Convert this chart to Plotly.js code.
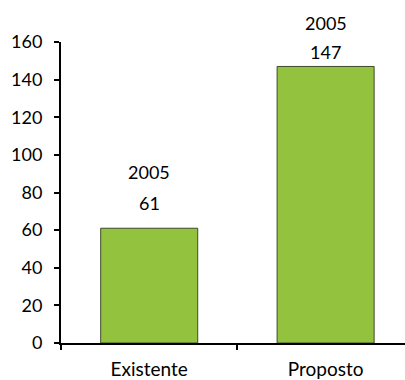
<!DOCTYPE html>
<html>
<head>
<meta charset="utf-8">
<script src="https://cdn.plot.ly/plotly-3.0.1.min.js"></script>
<style>html,body{margin:0;padding:0;background:#fff;}#chart{width:405px;height:380px;}</style>
</head>
<body>
<div id="chart"></div>
<script>
const categories = ["Existente", "Proposto"];
const values = [61, 147];
const yearLabels = ["2005", "2005"];
const yTicks = [0, 20, 40, 60, 80, 100, 120, 140, 160];

const FONT = "Lato, 'DejaVu Sans', sans-serif";
const valueShift = [25, 14];
const yearShift = [56, 43];

const annotations = [];
categories.forEach((c, i) => {
  annotations.push({x: c, y: values[i], xref: 'x', yref: 'y', text: String(values[i]),
    showarrow: false, yanchor: 'middle', yshift: valueShift[i], font: {family: FONT, size: 18, color: '#000'}});
  annotations.push({x: c, y: values[i], xref: 'x', yref: 'y', text: yearLabels[i],
    showarrow: false, yanchor: 'middle', yshift: yearShift[i], font: {family: FONT, size: 18, color: '#000'}});
});

const trace = {
  type: 'bar', x: categories, y: values, width: 0.55,
  marker: {color: 'rgb(147,194,62)', line: {color: '#3f4a2c', width: 1}},
  hoverinfo: 'none'
};

const layout = {
  width: 405, height: 380,
  margin: {l: 61, r: 0, t: 42, b: 37},
  paper_bgcolor: '#fff', plot_bgcolor: '#fff',
  showlegend: false,
  font: {family: FONT, size: 18, color: '#000'},
  xaxis: {
    type: 'category', range: [-0.5, 1.45],
    showline: true, linecolor: '#000', linewidth: 2,
    ticks: 'outside', tickson: 'boundaries', ticklen: 5, tickcolor: '#000', tickwidth: 2,
    ticklabelstandoff: 8,
    showgrid: false, zeroline: false,
    tickfont: {family: FONT, size: 19, color: '#000'}
  },
  yaxis: {
    range: [0, 160], tickvals: yTicks, ticktext: yTicks.map(String),
    showline: true, linecolor: '#000', linewidth: 2,
    ticks: 'outside', ticklen: 5, tickcolor: '#000', tickwidth: 2,
    ticklabelstandoff: 8,
    showgrid: false, zeroline: false,
    tickfont: {family: FONT, size: 18, color: '#000'}
  },
  annotations: annotations
};

Plotly.newPlot('chart', [trace], layout, {staticPlot: true, displayModeBar: false});
</script>
</body>
</html>
